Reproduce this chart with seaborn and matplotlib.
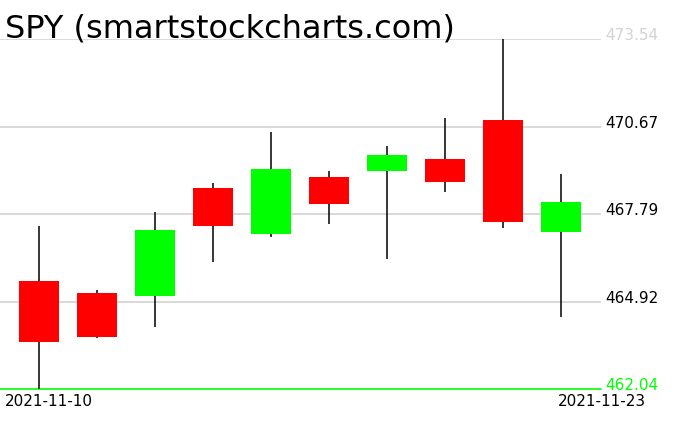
import numpy as np
import pandas as pd
import matplotlib
matplotlib.use("Agg")
import matplotlib.pyplot as plt
import seaborn as sns

# ================================
# DATA
# ================================
dates = ["2021-11-10", "2021-11-11", "2021-11-12", "2021-11-15", "2021-11-16",
         "2021-11-17", "2021-11-18", "2021-11-19", "2021-11-22", "2021-11-23"]
opens = [465.60, 465.20, 465.12, 468.66, 467.15, 469.02, 469.21, 469.61, 470.89, 467.22]
highs = [467.41, 465.30, 467.86, 468.82, 470.50, 469.21, 470.04, 470.96, 473.54, 469.12]
lows = [462.04, 463.74, 464.10, 466.23, 467.05, 467.48, 466.33, 468.51, 467.35, 464.43]
closes = [463.60, 463.77, 467.28, 467.42, 469.28, 468.14, 469.74, 468.86, 467.55, 468.20]
price_ticks = [462.04, 464.92, 467.79, 470.67, 473.54]

df = pd.DataFrame({"date": dates, "open": opens, "high": highs, "low": lows, "close": closes})
df["x"] = np.arange(len(df))
df["up"] = df["close"] >= df["open"]

# ================================
# PLOT
# ================================
sns.set_theme(style="white")
plt.rcParams["font.family"] = ["DejaVu Sans"]

W, H = 676, 431
fig = plt.figure(figsize=(W / 100, H / 100), dpi=100)
ax = fig.add_axes([0, (H - 390.3) / H, 601 / W, (390.3 - 40.3) / H])

# gridlines
for p in price_ticks[1:]:
    ax.axhline(p, color="#d3d3d3", lw=1.2, zorder=0)
ax.axhline(price_ticks[0], color="#00ff00", lw=1.2, zorder=0, clip_on=False)

# wicks
ax.vlines(df["x"], df["low"], df["high"], color="black", lw=1.1, zorder=1)

# bodies
colors = np.where(df["up"], "#00ff00", "#ff0000")
ax.bar(df["x"], df["close"] - df["open"], bottom=df["open"], width=40 / 58,
       color=colors, edgecolor="none", zorder=2)

ax.set_xlim(-39 / 58, (601 - 39) / 58)
ax.set_ylim(price_ticks[0], price_ticks[-1])
ax.set_xticks([])
ax.set_yticks([])
sns.despine(ax=ax, left=True, bottom=True)

# price labels on the right
label_colors = ["#00ff00", "black", "black", "black", "#d3d3d3"]
for p, c in zip(price_ticks, label_colors):
    ax.text(605 / 601, p, f"{p:.2f}", transform=ax.get_yaxis_transform(),
            ha="left", va="baseline", fontsize=11, color=c, clip_on=False)

# title and date labels
fig.text(5 / W, 1 - 38 / H, "SPY (smartstockcharts.com)", fontsize=23,
         ha="left", va="baseline", color="black")
fig.text(5 / W, 1 - 406 / H, dates[0], fontsize=11, ha="left", va="baseline",
         color="black")
fig.text(646 / W, 1 - 406 / H, dates[-1], fontsize=11, ha="right", va="baseline",
         color="black")

fig.savefig("out.png", dpi=100)
